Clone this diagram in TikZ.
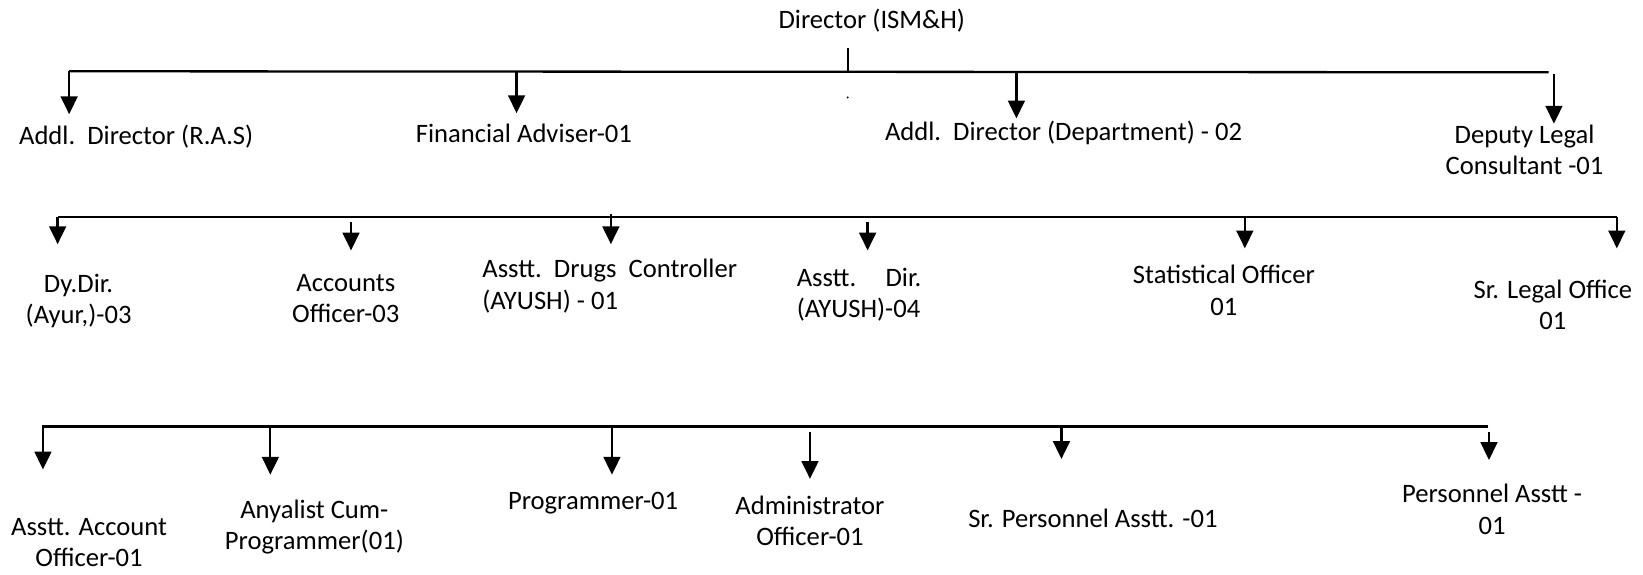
\documentclass[tikz,border=0pt]{standalone}
\usepackage{fontspec}
\setmainfont{Carlito}
\usetikzlibrary{arrows.meta}
\begin{document}
\begin{tikzpicture}[x=0.5pt,y=-0.5pt,
  lbl/.style={inner sep=0pt, align=center, font=\fontsize{12.7}{15}\selectfont},
  lbll/.style={inner sep=0pt, align=left, font=\fontsize{12.7}{15}\selectfont},
  bar/.style={line width=1.1pt},
  arr/.style={line width=1.1pt, -{Triangle[width=8pt,length=8.5pt]}}]
\useasboundingbox (0,0) rectangle (1568,548);
% ---------- level 0
\node[lbl] (dir) at (832,20) {Director (ISM\&H)};
\coordinate (d1) at (809,46);
\coordinate (d2) at (809,69);
\draw[bar] (d1) -- (d2);
\fill (809,93) circle (0.5pt);
% ---------- level 1
\coordinate (tL) at (66,68);
\coordinate (tR) at (1478,69);
\draw[bar] (tL) -- (tR);
\coordinate (a1s) at (66,68);   \coordinate (a1e) at (66,109);
\coordinate (a2s) at (493,68);  \coordinate (a2e) at (493,108);
\coordinate (a3s) at (970,69);  \coordinate (a3e) at (970,113);
\coordinate (a4s) at (1483,71); \coordinate (a4e) at (1483,118);
\foreach \i in {1,2,3,4} \draw[arr] (a\i s) -- (a\i e);
\node[lbl] (n1) at (130,130) {Addl.\ \ Director (R.A.S)};
\node[lbl] (n2) at (500,127) {Financial Adviser-01};
\node[lbl] (n3) at (1015,127) {Addl.\ \ Director (Department) - 02};
\node[lbl] (n4) at (1455,143) {Deputy Legal\\Consultant -01};
% ---------- level 2
\coordinate (mL) at (55,207);
\coordinate (mR) at (1543,207);
\draw[bar] (mL) -- (mR);
\coordinate (b1s) at (55,207);   \coordinate (b1e) at (55,233);
\coordinate (b2s) at (335,212);  \coordinate (b2e) at (335,239);
\coordinate (b3s) at (583,204);  \coordinate (b3e) at (583,233);
\coordinate (b4s) at (828,212);  \coordinate (b4e) at (828,239);
\coordinate (b5s) at (1188,207); \coordinate (b5e) at (1188,237);
\coordinate (b6s) at (1543,207); \coordinate (b6e) at (1543,237);
\foreach \i in {1,...,6} \draw[arr] (b\i s) -- (b\i e);
\node[lbl] (m1) at (75,287) {Dy.Dir.\\(Ayur,)-03};
\node[lbl] (m2) at (330,285) {Accounts\\Officer-03};
\node[lbll,anchor=west] (m3) at (460,273) {Asstt.\ \ Drugs\ \ Controller\\(AYUSH) - 01};
\node[lbll,anchor=west] (m4) at (760,281) {Asstt.\hspace{14pt}Dir.\\(AYUSH)-04};
\node[lbl] (m5) at (1168,277) {Statistical Officer\\01};
\node[lbl] (m6) at (1482,291) {Sr. Legal Office\\01};
% ---------- level 3
\coordinate (bL) at (40,407);
\coordinate (bR) at (1420,407);
\draw[bar] (bL) -- (bR);
\coordinate (c1s) at (41,407);   \coordinate (c1e) at (41,448);
\coordinate (c2s) at (258,407);  \coordinate (c2e) at (258,453);
\coordinate (c3s) at (584,407);  \coordinate (c3e) at (584,453);
\coordinate (c4s) at (773,412);  \coordinate (c4e) at (773,457);
\coordinate (c5s) at (1013,407); \coordinate (c5e) at (1013,438);
\coordinate (c6s) at (1421,412); \coordinate (c6e) at (1421,439);
\foreach \i in {1,...,6} \draw[arr] (c\i s) -- (c\i e);
\node[lbl] (k1) at (85,518) {Asstt. Account\\Officer-01};
\node[lbl] (k2) at (300,503) {Anyalist Cum-\\Programmer(01)};
\node[lbl] (k3) at (566,480) {Programmer-01};
\node[lbl] (k4) at (773,497) {Administrator\\Officer-01};
\node[lbl] (k5) at (1043,495) {Sr. Personnel Asstt. -01};
\node[lbl] (k6) at (1424,486) {Personnel Asstt -\\01};
\end{tikzpicture}
\end{document}
